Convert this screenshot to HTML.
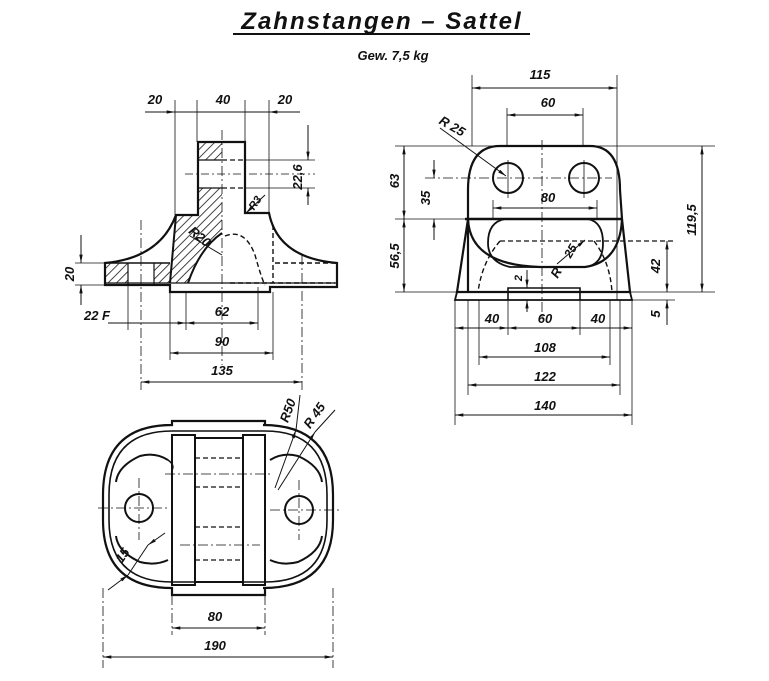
<!DOCTYPE html>
<html><head><meta charset="utf-8"><style>
html,body{margin:0;padding:0;background:#fff;}
svg{display:block;}
text{font-family:"Liberation Sans",sans-serif;font-style:italic;font-weight:bold;fill:#111;}
</style></head><body>
<svg width="769" height="681" viewBox="0 0 769 681" xmlns="http://www.w3.org/2000/svg">
<defs>
<pattern id="h" width="6" height="6" patternUnits="userSpaceOnUse" patternTransform="rotate(45)">
<line x1="0" y1="0" x2="0" y2="6" stroke="#111" stroke-width="1.6"/>
</pattern>
<marker id="a" viewBox="0 0 10 6" refX="10" refY="3" markerWidth="10" markerHeight="5" orient="auto-start-reverse" markerUnits="userSpaceOnUse">
<path d="M0,1 L10,3 L0,5 Z" fill="#111"/></marker>
</defs>
<rect width="769" height="681" fill="#fff"/>

<!-- Title -->
<text x="382" y="29" font-size="24" text-anchor="middle" letter-spacing="2">Zahnstangen – Sattel</text>
<line x1="233" y1="34" x2="530" y2="34" stroke="#111" stroke-width="2"/>
<text x="393" y="60" font-size="13" text-anchor="middle">Gew. 7,5 kg</text>

<g stroke="#111" fill="none">
<!-- ===== Front view (left top) ===== -->
<!-- hatches -->
<rect x="198" y="142" width="24" height="18" fill="url(#h)" stroke="none"/>
<path d="M198,188 L222,188 L222,233 Q200,248 188,283 L170,283 L176,215 L198,215 Z" fill="url(#h)" stroke="none"/>
<rect x="105" y="263" width="23" height="20" fill="url(#h)" stroke="none"/>
<rect x="154" y="263" width="16" height="20" fill="url(#h)" stroke="none"/>
<!-- outline -->
<path d="M198,215 L198,142 L245,142 L245,213 L269,213 Q278,258 337,263 L337,287 L270,287 L270,292 L170,292 L170,285 L105,285 L105,263 Q160,258 176,215 Z" stroke-width="2.2"/>
<line x1="105" y1="283" x2="337" y2="283" stroke-width="1.2"/>
<line x1="105" y1="263" x2="170" y2="263" stroke-width="1.5"/>
<line x1="176" y1="215" x2="170" y2="283" stroke-width="2"/>
<path d="M222,233 Q200,248 188,283" stroke-width="2"/>
<line x1="128" y1="263" x2="128" y2="285" stroke-width="1.2"/>
<line x1="154" y1="263" x2="154" y2="285" stroke-width="1.2"/>
<line x1="198" y1="160" x2="222" y2="160" stroke-width="1.2"/>
<line x1="198" y1="188" x2="222" y2="188" stroke-width="1.2"/>
<line x1="222" y1="160" x2="245" y2="160" stroke-width="1.2" stroke-dasharray="5,3"/>
<line x1="222" y1="188" x2="245" y2="188" stroke-width="1.2" stroke-dasharray="5,3"/>
<line x1="185" y1="174" x2="315" y2="174" stroke-width="0.8" stroke-dasharray="8,3,2,3"/>
<path d="M225,236 Q245,228 255,255 Q262,280 265,285" stroke-width="1.4" stroke-dasharray="5,3"/>
<line x1="273" y1="225" x2="273" y2="283" stroke-width="1.4" stroke-dasharray="5,3"/>
<line x1="275" y1="263" x2="337" y2="263" stroke-width="1.4" stroke-dasharray="5,3"/>
<line x1="230" y1="283" x2="335" y2="283" stroke-width="1.4" stroke-dasharray="5,3"/>
<line x1="222" y1="130" x2="222" y2="365" stroke-width="0.8" stroke-dasharray="10,3,2,3"/>
<line x1="141" y1="220" x2="141" y2="390" stroke-width="0.8" stroke-dasharray="10,3,2,3"/>
<line x1="302" y1="255" x2="302" y2="390" stroke-width="0.8" stroke-dasharray="10,3,2,3"/>
<!-- extension lines -->
<g stroke-width="0.8">
<line x1="175" y1="100" x2="175" y2="215"/>
<line x1="197" y1="100" x2="197" y2="142"/>
<line x1="245" y1="100" x2="245" y2="142"/>
<line x1="269" y1="100" x2="269" y2="213"/>
<line x1="128" y1="285" x2="128" y2="330"/>
<line x1="170" y1="292" x2="170" y2="360"/>
<line x1="186" y1="292" x2="186" y2="330"/>
<line x1="258" y1="287" x2="258" y2="330"/>
<line x1="273" y1="292" x2="273" y2="360"/>
<line x1="245" y1="160" x2="315" y2="160"/>
<line x1="245" y1="188" x2="315" y2="188"/>
<line x1="75" y1="263" x2="105" y2="263"/>
<line x1="75" y1="285" x2="105" y2="285"/>
</g>
<!-- dims -->
<g stroke-width="1">
<line x1="145" y1="112" x2="175" y2="112" marker-end="url(#a)"/>
<line x1="175" y1="112" x2="300" y2="112"/>
<line x1="300" y1="112" x2="269" y2="112" marker-end="url(#a)"/>
<line x1="308" y1="125" x2="308" y2="160" marker-end="url(#a)"/>
<line x1="308" y1="188" x2="308" y2="205"/>
<line x1="308" y1="205" x2="308" y2="188" marker-end="url(#a)"/>
<line x1="81" y1="235" x2="81" y2="263" marker-end="url(#a)"/>
<line x1="81" y1="305" x2="81" y2="285" marker-end="url(#a)"/>
<line x1="108" y1="323" x2="128" y2="323"/>
<line x1="128" y1="323" x2="186" y2="323" marker-end="url(#a)"/>
<line x1="258" y1="323" x2="186" y2="323" marker-end="url(#a)"/>
<line x1="186" y1="323" x2="258" y2="323" marker-end="url(#a)"/>
<line x1="222" y1="353" x2="170" y2="353" marker-end="url(#a)"/>
<line x1="222" y1="353" x2="273" y2="353" marker-end="url(#a)"/>
<line x1="222" y1="382" x2="141" y2="382" marker-end="url(#a)"/>
<line x1="222" y1="382" x2="302" y2="382" marker-end="url(#a)"/>
<line x1="265" y1="195" x2="246" y2="213" marker-end="url(#a)"/>
<line x1="190" y1="236" x2="222" y2="255"/>
</g>

<!-- ===== Side view (right top) ===== -->
<path d="M468,292 L468,190 Q468,146 500,146 L590,146 Q620,146 620,190 L622,219 L630,292 L457,292 L468,219" stroke-width="2.2"/>
<path d="M468,219 Q470,265 540,267 L585,267 Q620,262 622,219" stroke-width="2.2"/>
<line x1="465" y1="219" x2="623" y2="219" stroke-width="2.6"/>
<path d="M505,219 L588,219 Q603,222 603,243 Q603,265 585,267 L510,267 Q488,262 488,243 Q488,222 505,219 Z" stroke-width="1.8"/>
<circle cx="508" cy="178" r="15" stroke-width="2"/>
<circle cx="584" cy="178" r="15" stroke-width="2"/>
<path d="M457,292 L455,300 L632,300 L630,292" stroke-width="1.8"/>
<path d="M508,300 L508,288 L580,288 L580,300" stroke-width="1.6"/>
<path d="M500,241 Q482,262 478,292" stroke-width="1.4" stroke-dasharray="5,3"/>
<path d="M594,241 Q610,262 612,292" stroke-width="1.4" stroke-dasharray="5,3"/>
<line x1="500" y1="241" x2="675" y2="241" stroke-width="1.2" stroke-dasharray="5,3"/>
<line x1="542" y1="140" x2="542" y2="320" stroke-width="0.8" stroke-dasharray="10,3,2,3"/>
<line x1="425" y1="178" x2="612" y2="178" stroke-width="0.8" stroke-dasharray="10,3,2,3"/>
<line x1="508" y1="160" x2="508" y2="198" stroke-width="0.8"/>
<line x1="584" y1="160" x2="584" y2="198" stroke-width="0.8"/>
<g stroke-width="0.8">
<line x1="472" y1="75" x2="472" y2="146"/>
<line x1="617" y1="75" x2="617" y2="300"/>
<line x1="507" y1="108" x2="507" y2="146"/>
<line x1="583" y1="108" x2="583" y2="146"/>
<line x1="395" y1="146" x2="715" y2="146"/>
<line x1="395" y1="292" x2="715" y2="292"/>
<line x1="395" y1="219" x2="465" y2="219"/>
<line x1="455" y1="300" x2="455" y2="425"/>
<line x1="632" y1="300" x2="632" y2="425"/>
<line x1="468" y1="300" x2="468" y2="395"/>
<line x1="620" y1="300" x2="620" y2="395"/>
<line x1="479" y1="300" x2="479" y2="365"/>
<line x1="610" y1="300" x2="610" y2="365"/>
<line x1="508" y1="300" x2="508" y2="335"/>
<line x1="580" y1="300" x2="580" y2="335"/>
<line x1="493" y1="200" x2="493" y2="219"/>
<line x1="597" y1="200" x2="597" y2="219"/>
<line x1="632" y1="300" x2="675" y2="300"/>
</g>
<g stroke-width="1">
<line x1="545" y1="88" x2="472" y2="88" marker-end="url(#a)"/>
<line x1="545" y1="88" x2="617" y2="88" marker-end="url(#a)"/>
<line x1="545" y1="115" x2="507" y2="115" marker-end="url(#a)"/>
<line x1="545" y1="115" x2="583" y2="115" marker-end="url(#a)"/>
<line x1="545" y1="208" x2="493" y2="208" marker-end="url(#a)"/>
<line x1="545" y1="208" x2="597" y2="208" marker-end="url(#a)"/>
<line x1="404" y1="182" x2="404" y2="146" marker-end="url(#a)"/>
<line x1="404" y1="182" x2="404" y2="219" marker-end="url(#a)"/>
<line x1="404" y1="255" x2="404" y2="219" marker-end="url(#a)"/>
<line x1="404" y1="255" x2="404" y2="292" marker-end="url(#a)"/>
<line x1="434" y1="160" x2="434" y2="178" marker-end="url(#a)"/>
<line x1="434" y1="240" x2="434" y2="219" marker-end="url(#a)"/>
<line x1="702" y1="220" x2="702" y2="146" marker-end="url(#a)"/>
<line x1="702" y1="220" x2="702" y2="292" marker-end="url(#a)"/>
<line x1="667" y1="266" x2="667" y2="241" marker-end="url(#a)"/>
<line x1="667" y1="266" x2="667" y2="292" marker-end="url(#a)"/>
<line x1="667" y1="325" x2="667" y2="300" marker-end="url(#a)"/>
<line x1="527" y1="270" x2="527" y2="288" marker-end="url(#a)"/>
<line x1="527" y1="312" x2="527" y2="300" marker-end="url(#a)"/>
<line x1="455" y1="328" x2="632" y2="328"/>
<line x1="490" y1="328" x2="455" y2="328" marker-end="url(#a)"/>
<line x1="490" y1="328" x2="508" y2="328" marker-end="url(#a)"/>
<line x1="545" y1="328" x2="508" y2="328" marker-end="url(#a)"/>
<line x1="545" y1="328" x2="580" y2="328" marker-end="url(#a)"/>
<line x1="600" y1="328" x2="632" y2="328" marker-end="url(#a)"/>
<line x1="545" y1="357" x2="479" y2="357" marker-end="url(#a)"/>
<line x1="545" y1="357" x2="610" y2="357" marker-end="url(#a)"/>
<line x1="545" y1="385" x2="468" y2="385" marker-end="url(#a)"/>
<line x1="545" y1="385" x2="620" y2="385" marker-end="url(#a)"/>
<line x1="545" y1="415" x2="455" y2="415" marker-end="url(#a)"/>
<line x1="545" y1="415" x2="632" y2="415" marker-end="url(#a)"/>
<line x1="440" y1="128" x2="506" y2="176" marker-end="url(#a)"/>
<line x1="557" y1="264" x2="585" y2="240" marker-end="url(#a)"/>
</g>

<!-- ===== Top view (bottom left) ===== -->
<path d="M172,425 L172,421 L265,421 L265,425 L263,425 Q333,425 333,495 L333,520 Q333,588 263,588 L265,588 L265,595 L172,595 L172,588 Q103,588 103,520 L103,495 Q103,425 172,425 Z" stroke-width="2.2"/>
<path d="M172,431 L265,431 Q327,431 327,495 L327,520 Q327,582 265,582 L172,582 Q109,582 109,520 L109,495 Q109,431 172,431 Z" stroke-width="1.6"/>
<rect x="172" y="435" width="23" height="150" stroke-width="2"/>
<rect x="243" y="435" width="22" height="150" stroke-width="2"/>
<line x1="195" y1="438" x2="243" y2="438" stroke-width="2"/>
<line x1="195" y1="582" x2="243" y2="582" stroke-width="2"/>
<g stroke-width="1.3" stroke-dasharray="5,3">
<line x1="195" y1="458" x2="243" y2="458"/>
<line x1="195" y1="487" x2="243" y2="487"/>
<line x1="195" y1="527" x2="243" y2="527"/>
<line x1="195" y1="560" x2="243" y2="560"/>
</g>
<g stroke-width="0.8" stroke-dasharray="10,3,2,3">
<line x1="165" y1="474" x2="270" y2="474"/>
<line x1="180" y1="545" x2="260" y2="545"/>
<line x1="98" y1="508" x2="170" y2="508"/>
<line x1="270" y1="510" x2="340" y2="510"/>
<line x1="139" y1="478" x2="139" y2="540"/>
<line x1="299" y1="480" x2="299" y2="540"/>
<line x1="103" y1="588" x2="103" y2="668"/>
<line x1="333" y1="588" x2="333" y2="668"/>
<line x1="172" y1="595" x2="172" y2="635"/>
<line x1="265" y1="595" x2="265" y2="635"/>
</g>
<circle cx="139" cy="508" r="14" stroke-width="2"/>
<circle cx="299" cy="510" r="14" stroke-width="2"/>
<path d="M168,460 Q155,452 140,456 Q118,466 116,482" stroke-width="2"/>
<path d="M168,460 Q175,465 172,470" stroke-width="1.5"/>
<path d="M168,560 Q155,566 140,562 Q118,552 116,536" stroke-width="2"/>
<path d="M270,460 Q283,452 298,456 Q320,466 322,482" stroke-width="2"/>
<path d="M270,560 Q283,566 298,562 Q320,552 322,536" stroke-width="2"/>
<g stroke-width="1">
<line x1="215" y1="628" x2="172" y2="628" marker-end="url(#a)"/>
<line x1="215" y1="628" x2="265" y2="628" marker-end="url(#a)"/>
<line x1="215" y1="657" x2="103" y2="657" marker-end="url(#a)"/>
<line x1="215" y1="657" x2="333" y2="657" marker-end="url(#a)"/>
<line x1="275" y1="488" x2="296" y2="430" marker-end="url(#a)"/>
<line x1="296" y1="430" x2="300" y2="395"/>
<line x1="278" y1="490" x2="315" y2="432" marker-end="url(#a)"/>
<line x1="315" y1="432" x2="335" y2="410"/>
<line x1="108" y1="590" x2="128" y2="575" marker-end="url(#a)"/>
<line x1="165" y1="533" x2="148" y2="545" marker-end="url(#a)"/>
<line x1="128" y1="575" x2="148" y2="545"/>
</g>
</g>

<!-- labels -->
<g font-size="13">
<text x="155" y="104" text-anchor="middle">20</text>
<text x="223" y="104" text-anchor="middle">40</text>
<text x="285" y="104" text-anchor="middle">20</text>
<text transform="translate(302,177) rotate(-90)" text-anchor="middle">22,6</text>
<text transform="translate(258,205) rotate(-55)" text-anchor="middle" font-size="11">R3</text>
<text transform="translate(197,240) rotate(40)" text-anchor="middle">R20</text>
<text transform="translate(74,274) rotate(-90)" text-anchor="middle">20</text>
<text x="97" y="320" text-anchor="middle">22 F</text>
<text x="222" y="316" text-anchor="middle">62</text>
<text x="222" y="346" text-anchor="middle">90</text>
<text x="222" y="375" text-anchor="middle">135</text>

<text x="540" y="79" text-anchor="middle">115</text>
<text x="548" y="107" text-anchor="middle">60</text>
<text transform="translate(450,130) rotate(30)" text-anchor="middle">R 25</text>
<text x="548" y="202" text-anchor="middle">80</text>
<text transform="translate(399,181) rotate(-90)" text-anchor="middle">63</text>
<text transform="translate(430,198) rotate(-90)" text-anchor="middle">35</text>
<text transform="translate(399,256) rotate(-90)" text-anchor="middle">56,5</text>
<text transform="translate(696,220) rotate(-90)" text-anchor="middle">119,5</text>
<text transform="translate(660,266) rotate(-90)" text-anchor="middle">42</text>
<text transform="translate(660,314) rotate(-90)" text-anchor="middle">5</text>
<text transform="translate(522,278) rotate(-90)" text-anchor="middle" font-size="11">2</text>
<text transform="translate(560,275) rotate(-60)" text-anchor="middle">R</text>
<text transform="translate(574,253) rotate(-60)" text-anchor="middle" font-size="12">25</text>
<text x="492" y="323" text-anchor="middle">40</text>
<text x="545" y="323" text-anchor="middle">60</text>
<text x="598" y="323" text-anchor="middle">40</text>
<text x="545" y="352" text-anchor="middle">108</text>
<text x="545" y="381" text-anchor="middle">122</text>
<text x="545" y="410" text-anchor="middle">140</text>

<text transform="translate(292,412) rotate(-70)" text-anchor="middle">R50</text>
<text transform="translate(318,418) rotate(-55)" text-anchor="middle">R 45</text>
<text transform="translate(126,558) rotate(-55)" text-anchor="middle">15</text>
<text x="215" y="621" text-anchor="middle">80</text>
<text x="215" y="650" text-anchor="middle">190</text>
</g>
</svg>
</body></html>
